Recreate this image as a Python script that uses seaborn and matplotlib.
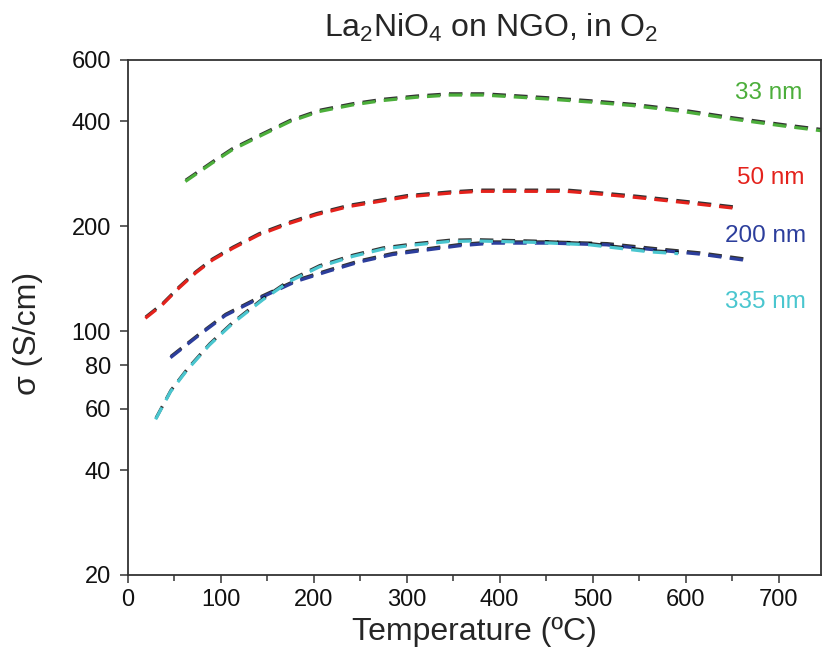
import numpy as np
import pandas as pd
import matplotlib
matplotlib.use("Agg")
import matplotlib.pyplot as plt
import matplotlib.patheffects as pe
from matplotlib.ticker import FixedLocator, FixedFormatter, MultipleLocator, NullLocator
import seaborn as sns

# Conductivity of La2NiO4 films on NGO in O2, by film thickness
films = ["33 nm", "50 nm", "200 nm", "335 nm"]

t_33 = [62, 91, 112, 145, 174, 206, 242, 274, 310, 346, 382, 411, 450, 500, 543, 597, 651, 705, 746]
s_33 = [269, 304, 331, 366, 399, 427, 446, 459, 469, 476, 476, 471, 464, 454, 444, 427, 406, 388, 376]

t_50 = [19, 37, 55, 73, 91, 113, 141, 174, 203, 238, 300, 346, 378, 418, 472, 504, 547, 605, 655]
s_50 = [109, 119, 133, 147, 160, 173, 189, 204, 216, 228, 243, 249, 252, 252, 252, 248, 242, 233, 225]

t_200 = [46, 77, 105, 138, 181, 217, 249, 285, 321, 357, 393, 454, 515, 569, 615, 670]
s_200 = [84, 97.6, 111, 123, 139, 149, 158, 166, 171, 176, 179, 179, 177, 171, 166.5, 159]

t_335 = [30, 46, 64, 88, 113, 145, 174, 206, 242, 274, 310, 346, 375, 436, 497, 561, 592]
s_335 = [55.9, 67.1, 77.5, 91.4, 105.4, 123, 139, 153, 164, 172, 177, 181, 181.6, 180, 177, 169, 167]

colors = ["#4cae3b", "#e4221c", "#2c3e9c", "#4ac6cf"]

y_ticks = [20, 40, 60, 80, 100, 200, 400, 600]
x_ticks = [0, 100, 200, 300, 400, 500, 600, 700]

# label anchor (right edge) per film
label_x = [725, 728, 729, 729]
label_y = [483, 275, 188, 121.5]

df = pd.concat([
    pd.DataFrame({"T": t, "sigma": s, "film": f})
    for t, s, f in zip([t_33, t_50, t_200, t_335], [s_33, s_50, s_200, s_335], films)
], ignore_index=True)

sns.set_style("ticks")
plt.rcParams["font.family"] = ["Liberation Sans", "DejaVu Sans"]
plt.rcParams["mathtext.fontset"] = "custom"
plt.rcParams["mathtext.rm"] = "Liberation Sans"
plt.rcParams["mathtext.it"] = "Liberation Sans:italic"

fig = plt.figure(figsize=(8.27, 6.60), dpi=100)
ax = fig.add_axes([0.1544, 0.1288, 0.8389, 0.7803])

sns.lineplot(
    data=df, x="T", y="sigma", hue="film", style="film",
    palette=dict(zip(films, colors)),
    dashes={f: (4.2, 2.6) for f in films},
    linewidth=2.3, legend=False, ax=ax, sort=False,
)
for line in ax.get_lines():
    line.set_path_effects([
        pe.SimpleLineShadow(offset=(0.3, 0.9), shadow_color="k", alpha=0.8),
        pe.Normal(),
    ])

ax.set_yscale("log")
ax.set_xlim(0, 746)
ax.set_ylim(20, 600)

ax.yaxis.set_major_locator(FixedLocator(y_ticks))
ax.yaxis.set_major_formatter(FixedFormatter([str(v) for v in y_ticks]))
ax.yaxis.set_minor_locator(NullLocator())
ax.xaxis.set_major_locator(FixedLocator(x_ticks))
ax.xaxis.set_minor_locator(MultipleLocator(50))

ax.tick_params(axis="both", which="major", direction="out", length=6, width=1.1,
               labelsize=17, color="#333333", labelcolor="#111111")
ax.tick_params(axis="x", which="major", pad=4)
ax.tick_params(axis="y", which="major", pad=6)
ax.tick_params(axis="x", which="minor", direction="out", length=4, width=1.1, color="#333333")

for sp in ax.spines.values():
    sp.set_visible(True)
    sp.set_linewidth(1.3)
    sp.set_color("#333333")

ax.set_xlabel("Temperature (ºC)", fontsize=23, labelpad=4)
ax.set_ylabel("σ (S/cm)", fontsize=23)
ax.yaxis.set_label_coords(-0.122, 0.47)

fig.text(0.594, 0.958, r"La$_2$NiO$_4$ on NGO, in O$_2$", ha="center", va="center", fontsize=23)

for f, c, lx, ly in zip(films, colors, label_x, label_y):
    ax.text(lx, ly, f, color=c, fontsize=17.5, ha="right", va="center")

fig.savefig("out.png", dpi=100)
